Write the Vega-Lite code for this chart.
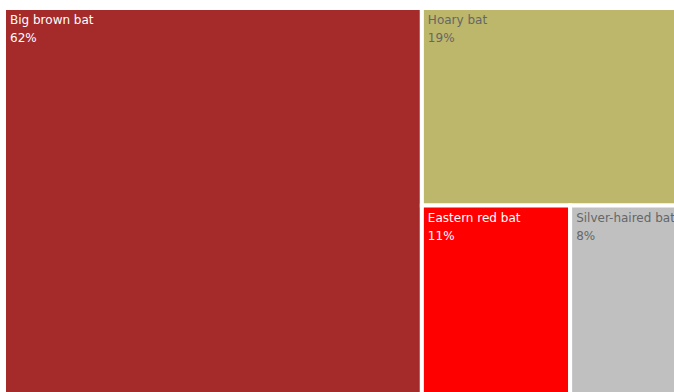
{
  "$schema": "https://vega.github.io/schema/vega-lite/v6.json",
  "width": 670,
  "height": 384,
  "padding": {"left": 4, "top": 8, "right": 0, "bottom": 0},
  "autosize": {"type": "none"},
  "background": "white",
  "config": {"view": {"stroke": null}},
  "data": {
    "values": [
      {"name": "Big brown bat", "pct": "62%", "x0": 0, "x1": 62, "y0": 0, "y1": 100},
      {"name": "Hoary bat", "pct": "19%", "x0": 62, "x1": 100, "y0": 0, "y1": 50},
      {"name": "Eastern red bat", "pct": "11%", "x0": 62, "x1": 84, "y0": 50, "y1": 100},
      {"name": "Silver-haired bat", "pct": "8%", "x0": 84, "x1": 100, "y0": 50, "y1": 100}
    ]
  },
  "encoding": {
    "x": {"field": "x0", "type": "quantitative", "scale": {"domain": [0, 99.41], "nice": false, "zero": false}, "axis": null},
    "y": {"field": "y0", "type": "quantitative", "scale": {"domain": [0, 97.2], "nice": false, "zero": false, "reverse": true}, "axis": null}
  },
  "layer": [
    {
      "mark": {"type": "rect", "stroke": "white", "strokeWidth": 4, "clip": true},
      "encoding": {
        "x2": {"field": "x1"},
        "y2": {"field": "y1"},
        "color": {
          "field": "name",
          "type": "nominal",
          "scale": {
            "domain": ["Big brown bat", "Hoary bat", "Eastern red bat", "Silver-haired bat"],
            "range": ["#A52A2A", "#BDB76B", "#FF0000", "#C0C0C0"]
          },
          "legend": null
        }
      }
    },
    {
      "mark": {"type": "text", "align": "left", "baseline": "top", "dx": 6, "dy": 7, "font": "DejaVu Sans", "fontSize": 12, "clip": true},
      "encoding": {
        "text": {"field": "name"},
        "color": {
          "condition": {"test": "datum.name == 'Big brown bat' || datum.name == 'Eastern red bat'", "value": "#FFFFFF"},
          "value": "#666666"
        }
      }
    },
    {
      "mark": {"type": "text", "align": "left", "baseline": "top", "dx": 6, "dy": 25, "font": "DejaVu Sans", "fontSize": 12, "clip": true},
      "encoding": {
        "text": {"field": "pct"},
        "color": {
          "condition": {"test": "datum.name == 'Big brown bat' || datum.name == 'Eastern red bat'", "value": "#FFFFFF"},
          "value": "#666666"
        }
      }
    }
  ]
}
